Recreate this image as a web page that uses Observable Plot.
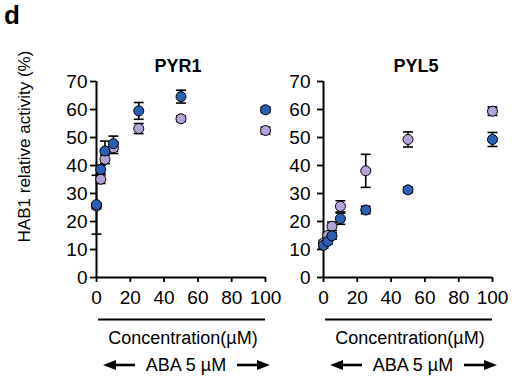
<!DOCTYPE html>
<html><head><meta charset="utf-8">
<script src="https://cdn.jsdelivr.net/npm/d3@7"></script>
<script src="https://cdn.jsdelivr.net/npm/@observablehq/plot@0.6"></script>
<style>
body{margin:0;background:#fff;}
#wrap{position:relative;width:524px;height:382px;overflow:hidden;background:#fff;font-family:"Liberation Sans",Arial,sans-serif;}
.panel{position:absolute;top:0;}
</style></head><body><div id="wrap"></div>
<script>
// ABA concentrations (µM)
const conc = [0, 2.5, 5, 10, 25, 50, 100];
const xTicks = [0, 20, 40, 60, 80, 100];
const yTicks = [0, 10, 20, 30, 40, 50, 60, 70];

// PYR1 panel
const pyr1Blue = [26.0, 38.6, 45.2, 47.8, 59.5, 64.6, 59.9];
const pyr1BlueErr = [10.5, 1.5, 3.5, 2.7, 3.0, 2.3, 1.0];
const pyr1Purple = [25.5, 35.1, 42.2, 46.3, 53.2, 56.7, 52.5];
const pyr1PurpleErr = [1.0, 1.5, 1.5, 2.0, 1.8, 1.0, 1.2];

// PYL5 panel
const pyl5Blue = [11.5, 12.9, 14.9, 21.0, 24.1, 31.3, 49.3];
const pyl5BlueErr = [1.0, 1.0, 1.2, 2.0, 1.3, 1.0, 2.5];
const pyl5Purple = [12.3, 15.0, 18.3, 25.4, 38.1, 49.3, 59.4];
const pyl5PurpleErr = [1.0, 1.0, 1.5, 2.0, 5.9, 2.7, 1.5];

const seriesNames = ["series A", "series B"]; // A = light purple, B = blue
const titles = ["PYR1", "PYL5"];
const xLabel = "Concentration(\u00b5M)";
const abaLabel = "ABA 5 \u00b5M";
const yLabel = "HAB1 relative activity (%)";
const panelLetter = "d";

const blueColor = "#2b5fb3";
const purpleColor = "#b2a2d7";
const FONT = '"Liberation Sans", Arial, sans-serif';

const capSymbol = {draw(ctx, size) { const w = Math.sqrt(size); ctx.moveTo(-w / 2, 0); ctx.lineTo(w / 2, 0); }};

function makePanel(title, bVals, bErr, pVals, pErr, titleDx, yPad) {
  const rows = [];
  conc.forEach((c, i) => rows.push({series: seriesNames[0], conc: c, value: pVals[i], err: pErr[i]}));
  conc.forEach((c, i) => rows.push({series: seriesNames[1], conc: c, value: bVals[i], err: bErr[i]}));
  return Plot.plot({
    width: 280, height: 382,
    marginTop: 81, marginBottom: 105, marginLeft: 96, marginRight: 15,
    style: {fontFamily: FONT, fontSize: "19px", color: "#000", background: "transparent", overflow: "visible"},
    x: {domain: [0, 100]},
    y: {domain: [0, 70]},
    color: {type: "ordinal", domain: seriesNames, range: [purpleColor, blueColor]},
    marks: [
      Plot.axisY({ticks: yTicks, tickSize: 6, tickPadding: yPad, strokeWidth: 1.8, label: null, fontSize: 19}),
      Plot.axisX({ticks: xTicks, tickSize: 5, tickPadding: 8, strokeWidth: 1.8, label: null, fontSize: 19}),
      Plot.ruleX([0], {y1: 0, y2: 70, strokeWidth: 2}),
      Plot.ruleY([0], {x1: 0, x2: 100, strokeWidth: 2}),
      Plot.ruleX(rows, {x: "conc", y1: d => d.value - d.err, y2: d => d.value + d.err, strokeWidth: 1.6}),
      Plot.dot(rows, {x: "conc", y: d => d.value + d.err, symbol: capSymbol, r: 5.6, stroke: "black", strokeWidth: 1.6}),
      Plot.dot(rows, {x: "conc", y: d => d.value - d.err, symbol: capSymbol, r: 5.6, stroke: "black", strokeWidth: 1.6}),
      Plot.dot(rows, {x: "conc", y: "value", r: 5, fill: "series", stroke: "black", strokeWidth: 1}),
      Plot.text([title], {text: d => d, frameAnchor: "top", lineAnchor: "bottom", dy: -10, dx: titleDx, fontWeight: "bold", fontSize: 18})
    ]
  });
}

function addBottom(svg) {
  const g = d3.select(svg).append("g").attr("font-family", FONT).attr("font-size", 18).attr("fill", "#000");
  g.append("line").attr("x1", 98).attr("x2", 265).attr("y1", 319.5).attr("y2", 319.5).attr("stroke", "#000").attr("stroke-width", 2);
  g.append("text").attr("x", 183).attr("y", 344).attr("text-anchor", "middle").text(xLabel);
  g.append("text").attr("x", 186).attr("y", 371).attr("text-anchor", "middle").text(abaLabel);
  const arrow = (x0, x1) => {
    const dir = Math.sign(x1 - x0);
    const y = 365;
    g.append("line").attr("x1", x0).attr("x2", x1 - dir * 9).attr("y1", y).attr("y2", y).attr("stroke", "#000").attr("stroke-width", 2.6);
    g.append("path").attr("d", `M${x1},${y} L${x1 - dir * 13},${y - 5} L${x1 - dir * 13},${y + 5} Z`).attr("fill", "#000");
  };
  arrow(135, 103);
  arrow(237, 270);
}

const wrap = document.getElementById("wrap");
const p1 = makePanel(titles[0], pyr1Blue, pyr1BlueErr, pyr1Purple, pyr1PurpleErr, -3, 3);
const p2 = makePanel(titles[1], pyl5Blue, pyl5BlueErr, pyl5Purple, pyl5PurpleErr, 8, 7);
[p1, p2].forEach(p => p.classList.add("panel"));
p1.style.left = "0px";
p2.style.left = "227px";
addBottom(p1);
addBottom(p2);
const s1 = d3.select(p1);
s1.append("text").attr("x", 12).attr("y", 24).attr("font-family", FONT).attr("font-size", 26).attr("font-weight", "bold").text(panelLetter);
s1.append("text").attr("transform", "translate(30,146.5) rotate(-90)").attr("text-anchor", "middle").attr("font-family", FONT).attr("font-size", 17).text(yLabel);
wrap.appendChild(p1);
wrap.appendChild(p2);
</script></body></html>
